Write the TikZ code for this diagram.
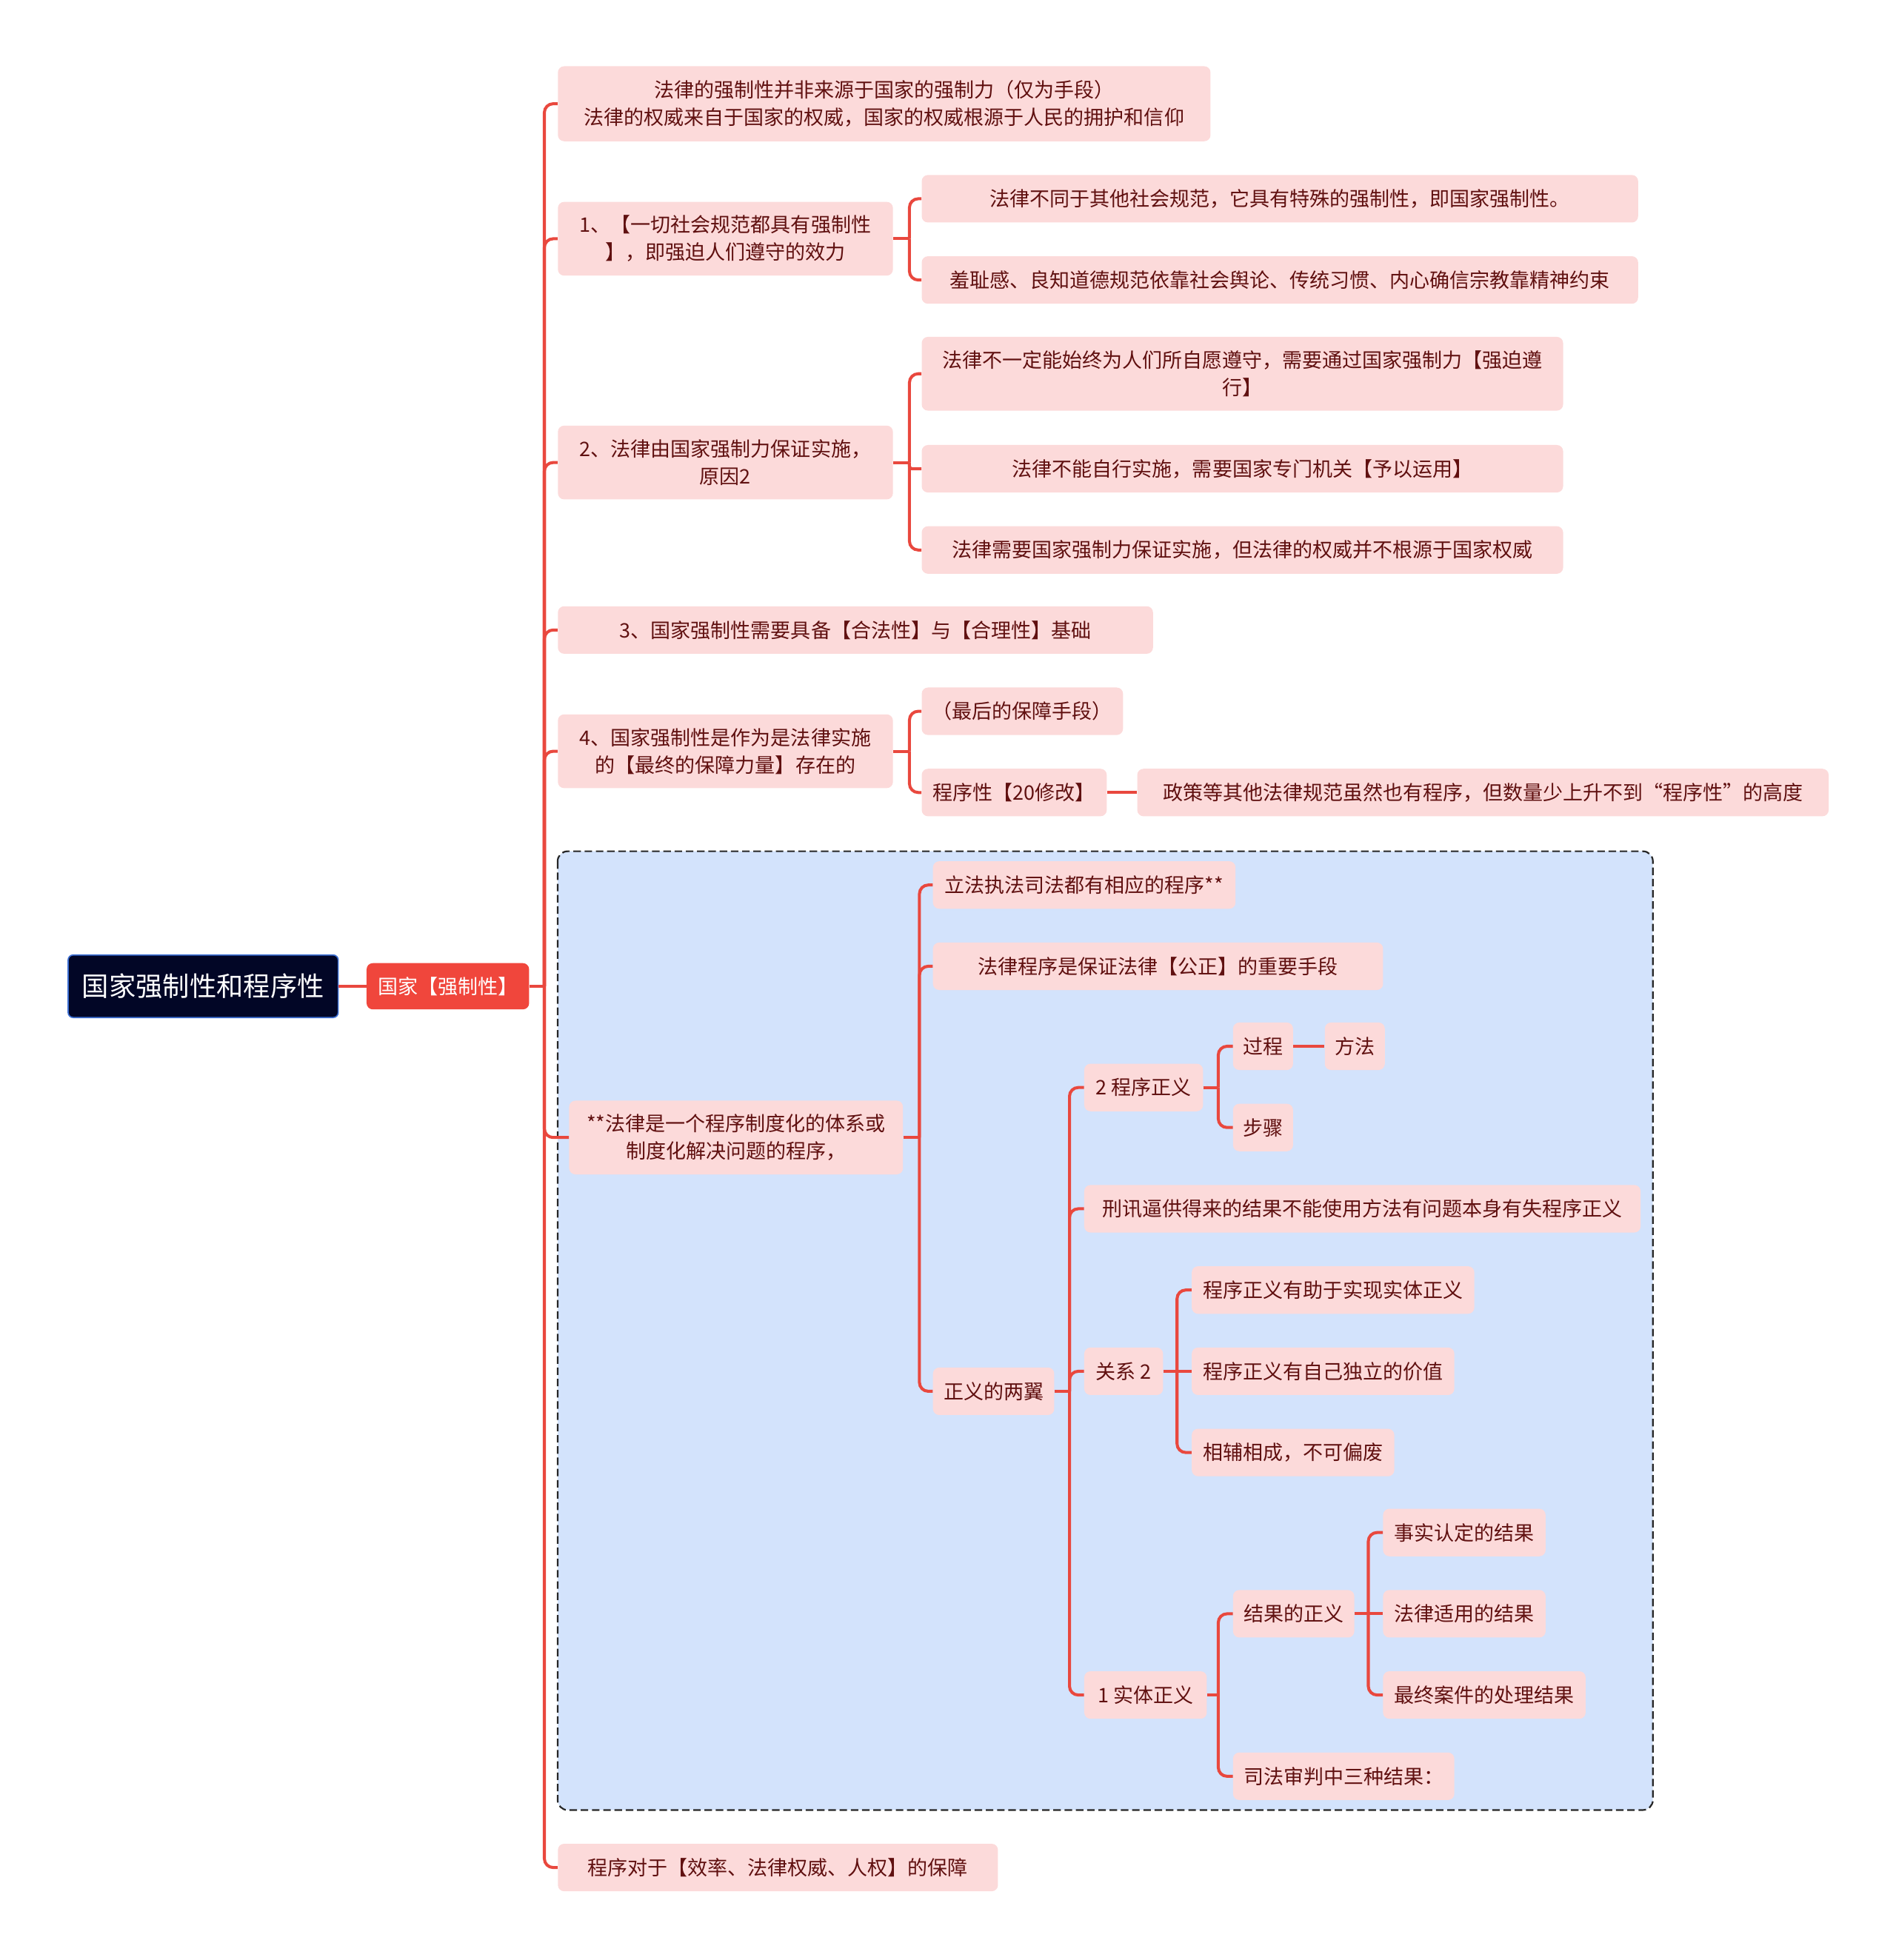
\documentclass[tikz,border=0pt]{standalone}
\usepackage{fontspec}
\newfontfamily\cjk{Noto Sans CJK SC}
\definecolor{LinkRed}  {RGB}{233,72,62}
\definecolor{LeafPink} {RGB}{252,218,218}
\definecolor{LeafText} {RGB}{96,16,16}
\definecolor{TopicRed} {RGB}{240,70,60}
\definecolor{RootNavy} {RGB}{2,6,38}
\definecolor{RootEdge} {RGB}{60,110,210}
\definecolor{ZoneBlue} {RGB}{211,227,252}
\usetikzlibrary{positioning}

\begin{document}
\begin{tikzpicture}[x=1pt,y=-1pt,
  leaf/.style={fill=LeafPink,text=LeafText,rounded corners=5pt,anchor=west,
               align=center,inner xsep=8pt,inner ysep=0pt,minimum height=38pt,
               font=\cjk\fontsize{16}{22}\selectfont},
  topic/.style={fill=TopicRed,text=white,rounded corners=5pt,anchor=west,
               minimum width=130pt,minimum height=37pt,
               font=\cjk\fontsize{16}{22}\selectfont},
  root/.style={fill=RootNavy,draw=RootEdge,line width=1pt,text=white,
               rounded corners=4pt,anchor=west,minimum width=216pt,
               minimum height=50pt,font=\cjk\fontsize{21.5}{26}\selectfont},
  conn/.style={draw=LinkRed,line width=2.4pt,rounded corners=7pt},
  zone/.style={fill=ZoneBlue,draw=black!85,line width=1.3pt,
               dash pattern=on 6pt off 3pt,rounded corners=8pt}]
  \useasboundingbox (0,0) rectangle (1516,1568);
  % dashed background zone
  \draw[zone] (446,681) rectangle (1322,1448);

  \node[root](RT) at (54,789) {国家强制性和程序性};
  \node[topic](QZ) at (293,789) {国家【强制性】};

  \node[leaf,minimum width=522pt,minimum height=60pt](P0) at (446,83)
       {法律的强制性并非来源于国家的强制力（仅为手段）\\法律的权威来自于国家的权威，国家的权威根源于人民的拥护和信仰};
  \node[leaf,minimum width=268pt,minimum height=59pt](P1) at (446,191)
       {1、【一切社会规范都具有强制性\\】，即强迫人们遵守的效力};
  \node[leaf,minimum width=573pt](P1a) at (737,159)
       {法律不同于其他社会规范，它具有特殊的强制性，即国家强制性。};
  \node[leaf,minimum width=573pt](P1b) at (737,224)
       {羞耻感、良知道德规范依靠社会舆论、传统习惯、内心确信宗教靠精神约束};
  \node[leaf,minimum width=268pt,minimum height=59pt](P2) at (446,370)
       {2、法律由国家强制力保证实施，\\原因2};
  \node[leaf,minimum width=513pt,minimum height=59pt](P2a) at (737,299)
       {法律不一定能始终为人们所自愿遵守，需要通过国家强制力【强迫遵\\行】};
  \node[leaf,minimum width=513pt](P2b) at (737,375)
       {法律不能自行实施，需要国家专门机关【予以运用】};
  \node[leaf,minimum width=513pt](P2c) at (737,440)
       {法律需要国家强制力保证实施，但法律的权威并不根源于国家权威};
  \node[leaf,minimum width=476pt](P3) at (446,504)
       {3、国家强制性需要具备【合法性】与【合理性】基础};
  \node[leaf,minimum width=268pt,minimum height=59pt](P4) at (446,601)
       {4、国家强制性是作为是法律实施\\的【最终的保障力量】存在的};
  \node[leaf,minimum width=161pt](P4a) at (737,569) {（最后的保障手段）};
  \node[leaf,minimum width=148pt](P4b) at (737,634) {程序性【20修改】};
  \node[leaf,minimum width=553pt,right=24pt of P4b](P4c)
       {政策等其他法律规范虽然也有程序，但数量少上升不到“程序性”的高度};
  \node[leaf,minimum width=352pt](P6) at (446,1494)
       {程序对于【效率、法律权威、人权】的保障};

  \node[leaf,minimum width=267pt,minimum height=59pt](P5) at (455,910)
       {**法律是一个程序制度化的体系或\\制度化解决问题的程序，};
  \node[leaf,minimum width=242pt](P5a) at (746,708) {立法执法司法都有相应的程序**};
  \node[leaf,minimum width=360pt](P5b) at (746,773) {法律程序是保证法律【公正】的重要手段};
  \node[leaf,minimum width=97pt](P5c) at (746,1113) {正义的两翼};
  \node[leaf,minimum width=95pt](JA) at (867,870) {2 程序正义};
  \node[leaf,minimum width=47pt](JA1) at (986,837) {过程};
  \node[leaf,minimum width=47pt,right=25pt of JA1](JA2) {方法};
  \node[leaf,minimum width=47pt](JA3) at (986,902) {步骤};
  \node[leaf,minimum width=445pt](JB) at (867,967)
       {刑讯逼供得来的结果不能使用方法有问题本身有失程序正义};
  \node[leaf,minimum width=63pt](JC) at (867,1097) {关系 2};
  \node[leaf,minimum width=226pt](JC1) at (953,1032) {程序正义有助于实现实体正义};
  \node[leaf,minimum width=210pt](JC2) at (953,1097) {程序正义有自己独立的价值};
  \node[leaf,minimum width=162pt](JC3) at (953,1162) {相辅相成，不可偏废};
  \node[leaf,minimum width=98pt](JD) at (867,1356) {1 实体正义};
  \node[leaf,minimum width=97pt](JD1) at (986,1291) {结果的正义};
  \node[leaf,minimum width=130pt](JD1a) at (1106,1226) {事实认定的结果};
  \node[leaf,minimum width=130pt](JD1b) at (1106,1291) {法律适用的结果};
  \node[leaf,minimum width=162pt](JD1c) at (1106,1356) {最终案件的处理结果};
  \node[leaf,minimum width=177pt](JD2) at (986,1421) {司法审判中三种结果：};

  % junctions
  \coordinate (QZj)  at ([xshift=12pt]QZ.east);
  \coordinate (P1j)  at ([xshift=13pt]P1.east);
  \coordinate (P2j)  at ([xshift=13pt]P2.east);
  \coordinate (P4j)  at ([xshift=13pt]P4.east);
  \coordinate (P5j)  at ([xshift=13pt]P5.east);
  \coordinate (P5cj) at ([xshift=12pt]P5c.east);
  \coordinate (JAj)  at ([xshift=12pt]JA.east);
  \coordinate (JCj)  at ([xshift=11pt]JC.east);
  \coordinate (JDj)  at ([xshift=9pt]JD.east);
  \coordinate (JD1j) at ([xshift=11pt]JD1.east);

  \draw[conn](RT)--(QZ);
  \draw[conn](QZ.east)--(QZj);
  \foreach \c in {P0,P1,P2,P3,P4,P5,P6} \draw[conn](QZj)|-(\c.west);
  \draw[conn](P1.east)--(P1j);
  \foreach \c in {P1a,P1b} \draw[conn](P1j)|-(\c.west);
  \draw[conn](P2.east)--(P2j);
  \foreach \c in {P2a,P2c} \draw[conn](P2j)|-(\c.west);
  \draw[conn,rounded corners=2pt](P2j)|-(P2b.west);
  \draw[conn](P4.east)--(P4j);
  \foreach \c in {P4a,P4b} \draw[conn](P4j)|-(\c.west);
  \draw[conn](P4b)--(P4c);
  \draw[conn](P5.east)--(P5j);
  \foreach \c in {P5a,P5b,P5c} \draw[conn](P5j)|-(\c.west);
  \draw[conn](P5c.east)--(P5cj);
  \foreach \c in {JA,JB,JC,JD} \draw[conn](P5cj)|-(\c.west);
  \draw[conn](JA.east)--(JAj);
  \foreach \c in {JA1,JA3} \draw[conn](JAj)|-(\c.west);
  \draw[conn](JA1)--(JA2);
  \draw[conn](JC.east)--(JC2.west);
  \foreach \c in {JC1,JC3} \draw[conn](JCj)|-(\c.west);
  \draw[conn](JD.east)--(JDj);
  \foreach \c in {JD1,JD2} \draw[conn](JDj)|-(\c.west);
  \draw[conn](JD1.east)--(JD1b.west);
  \foreach \c in {JD1a,JD1c} \draw[conn](JD1j)|-(\c.west);
\end{tikzpicture}
\end{document}
